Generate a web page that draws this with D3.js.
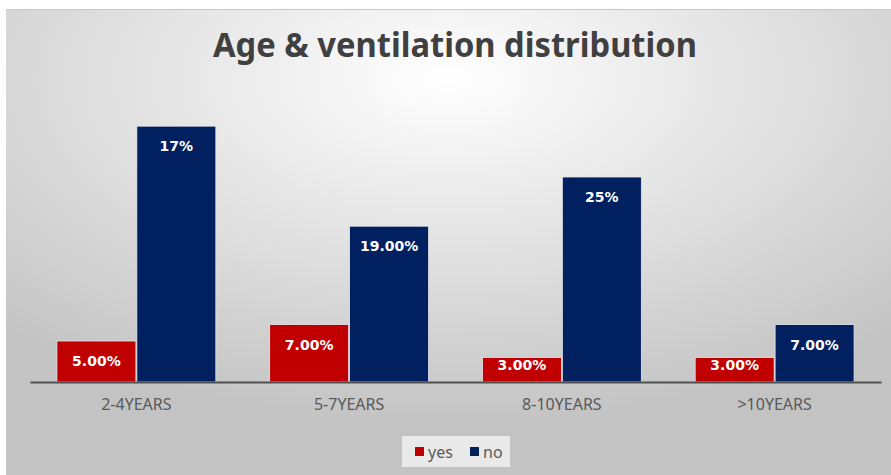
<!DOCTYPE html>
<html>
<head>
<meta charset="utf-8">
<script src="https://cdn.jsdelivr.net/npm/d3@7"></script>
<style>
  html, body { margin: 0; padding: 0; background: #fff; }
  svg { display: block; }
</style>
</head>
<body>
<div id="chart"></div>
<script>
const categories = ['2-4YEARS', '5-7YEARS', '8-10YEARS', '>10YEARS'];
const seriesNames = ['yes', 'no'];
const yesValues = [5, 7, 3, 3];
const noValues = [31.2, 19, 25, 7];
// labels as printed on the bars (they do not all match the bar heights)
const yesLabels = ['5.00%', '7.00%', '3.00%', '3.00%'];
const noLabels = ['17%', '19.00%', '25%', '7.00%'];
const colors = ['#c00000', '#002060'];

const width = 891, height = 475;
const baseline = 382;

const svg = d3.select('#chart').append('svg')
    .attr('width', width)
    .attr('height', height);

// background gradient like the office chart area
const defs = svg.append('defs');
const grad = defs.append('radialGradient')
    .attr('id', 'bg')
    .attr('cx', '50%').attr('cy', '15%').attr('r', '75%')
    .attr('gradientUnits', 'objectBoundingBox');
grad.append('stop').attr('offset', '0%').attr('stop-color', '#ffffff');
grad.append('stop').attr('offset', '100%').attr('stop-color', '#c3c3c3');

svg.append('rect')
    .attr('x', 6).attr('y', 9)
    .attr('width', width - 6).attr('height', height - 9)
    .attr('fill', 'url(#bg)');
svg.append('line')
    .attr('x1', 6).attr('x2', width)
    .attr('y1', 9.5).attr('y2', 9.5)
    .attr('stroke', '#c8c8c8');

// title
svg.append('text')
    .attr('x', 455).attr('y', 57)
    .attr('text-anchor', 'middle')
    .attr('textLength', 484)
    .attr('lengthAdjust', 'spacingAndGlyphs')
    .style('font-family', '"Noto Sans", sans-serif')
    .style('font-weight', 'bold')
    .style('font-size', '34px')
    .style('fill', '#404040')
    .text('Age & ventilation distribution');

// scales
const xScale = d3.scaleBand()
    .domain(categories)
    .range([30, 881])
    .paddingInner(0.253)
    .paddingOuter(0.1265);

const xInner = d3.scaleBand()
    .domain(seriesNames)
    .range([0, xScale.bandwidth()])
    .paddingInner(0.012);

const yScale = d3.scaleLinear()
    .domain([0, 35])
    .range([baseline, baseline - 35 * 8.2]);

const rows = categories.map((c, i) => ({
  cat: c,
  bars: [
    {series: 'yes', value: yesValues[i], label: yesLabels[i], color: colors[0]},
    {series: 'no', value: noValues[i], label: noLabels[i], color: colors[1]}
  ]
}));

const groups = svg.selectAll('g.group')
    .data(rows)
    .enter().append('g')
    .attr('class', 'group')
    .attr('transform', d => `translate(${xScale(d.cat)}, 0)`);

groups.selectAll('rect')
    .data(d => d.bars)
    .enter().append('rect')
    .attr('x', d => xInner(d.series))
    .attr('y', d => yScale(d.value))
    .attr('width', xInner.bandwidth())
    .attr('height', d => baseline - yScale(d.value))
    .attr('fill', d => d.color)
    .attr('stroke', '#e6e6ee')
    .attr('stroke-width', 0.8);

groups.selectAll('text.lbl')
    .data(d => d.bars)
    .enter().append('text')
    .attr('class', 'lbl')
    .attr('x', d => xInner(d.series) + xInner.bandwidth() / 2)
    .attr('y', d => Math.min(yScale(d.value) + 20, baseline - 17))
    .attr('dy', '0.35em')
    .attr('text-anchor', 'middle')
    .style('font-family', '"DejaVu Sans", sans-serif')
    .style('font-weight', 'bold')
    .style('font-size', '14px')
    .style('fill', '#ffffff')
    .text(d => d.label);

// x axis
const xAxis = svg.append('g')
    .attr('transform', `translate(0, ${baseline})`)
    .call(d3.axisBottom(xScale).tickSize(0).tickPadding(17));
xAxis.select('.domain')
    .attr('stroke', '#505050')
    .attr('stroke-width', 2);
xAxis.selectAll('text')
    .style('font-family', '"Noto Sans", sans-serif')
    .style('font-size', '16px')
    .style('fill', '#595959');

// legend
const legend = svg.append('g');
legend.append('rect')
    .attr('x', 402).attr('y', 436)
    .attr('width', 108).attr('height', 31)
    .attr('fill', '#e9e9e9');
const legendItems = [
  {name: seriesNames[0], color: colors[0], x: 415},
  {name: seriesNames[1], color: colors[1], x: 470}
];
legendItems.forEach(item => {
  legend.append('rect')
    .attr('x', item.x).attr('y', 447)
    .attr('width', 9).attr('height', 9)
    .attr('fill', item.color);
  legend.append('text')
    .attr('x', item.x + 13).attr('y', 452)
    .attr('dy', '0.35em')
    .style('font-family', '"Noto Sans", sans-serif')
    .style('font-size', '16px')
    .style('fill', '#595959')
    .text(item.name);
});
</script>
</body>
</html>
